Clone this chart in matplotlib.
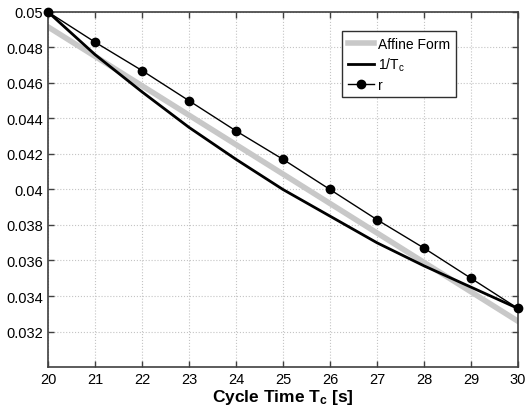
import numpy as np
import matplotlib
matplotlib.use("Agg")
import matplotlib.pyplot as plt

plt.rcParams['font.family'] = ['Liberation Sans', 'DejaVu Sans']
plt.rcParams['mathtext.fontset'] = 'custom'
plt.rcParams['mathtext.rm'] = 'Liberation Sans'
plt.rcParams['mathtext.it'] = 'Liberation Sans'
plt.rcParams['mathtext.bf'] = 'Liberation Sans:bold'

# data
cycle_time = [20, 21, 22, 23, 24, 25, 26, 27, 28, 29, 30]
inv_tc = [0.05, 0.0476, 0.0455, 0.0435, 0.0417, 0.04, 0.0385, 0.037, 0.0357, 0.0345, 0.0333]
r_vals = [0.05, 0.0483, 0.0467, 0.045, 0.0433, 0.0417, 0.04, 0.0383, 0.0367, 0.035, 0.0333]
affine_x = [20, 30]
affine_y = [0.04916, 0.03258]

yticks = [0.032, 0.034, 0.036, 0.038, 0.04, 0.042, 0.044, 0.046, 0.048, 0.05]
ytick_labels = ['0.032', '0.034', '0.036', '0.038', '0.04', '0.042', '0.044', '0.046', '0.048', '0.05']

fig = plt.figure(figsize=(5.31, 4.10), dpi=100)
ax = fig.add_axes([0.0904, 0.1024, 0.885, 0.866])

ax.plot(affine_x, affine_y, color='#c8c8c8', lw=4, label='Affine Form', zorder=2)
ax.plot(cycle_time, inv_tc, color='black', lw=2, label='1/T$_\\mathrm{c}$', zorder=3)
ax.plot(cycle_time, r_vals, color='black', lw=1, marker='o', ms=6,
        label='r', zorder=4, clip_on=False)

ax.set_xlim(20, 30)
ax.set_ylim(0.030, 0.05)
ax.set_xticks(cycle_time)
ax.set_yticks(yticks)
ax.set_yticklabels(ytick_labels)
ax.tick_params(direction='in', top=True, right=True, labelsize=10.5,
               length=4, width=1, color='#404040')
for s in ax.spines.values():
    s.set_color('#404040')
    s.set_linewidth(1.2)
ax.grid(True, linestyle=':', color='#c4c4c4', lw=0.8)

ax.set_xlabel(r'Cycle Time $\mathbf{T_c}$ [s]', fontsize=12.5, fontweight='bold', labelpad=1)

leg = ax.legend(loc='upper right', bbox_to_anchor=(0.868, 0.946), borderaxespad=0,
                fancybox=False, framealpha=1, edgecolor='#303030', fontsize=10,
                handlelength=1.9, borderpad=0.4, labelspacing=0.35, handletextpad=0.3)
leg.get_frame().set_linewidth(1)

fig.savefig('out.png', dpi=100)
